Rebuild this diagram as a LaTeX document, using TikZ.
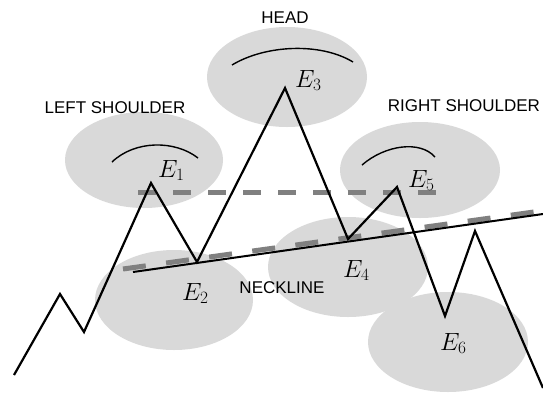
\documentclass[tikz,border=0pt]{standalone}
\usepackage{fontspec}
\setsansfont{Liberation Sans}
\usetikzlibrary{positioning}

\tikzset{
  zone/.style={fill=black!15},
  price/.style={line width=2.2pt, line join=miter},
  guide/.style={line width=5pt, black!50},
  crest/.style={line width=1.4pt},
  tag/.style={font=\sffamily\fontsize{17}{20}\selectfont, anchor=base, inner sep=0pt},
  ev/.style={font=\fontsize{25}{28}\selectfont, anchor=base west, inner sep=0pt}
}

\begin{document}
\begin{tikzpicture}[x=1pt, y=-1pt]
        \useasboundingbox (0,0) rectangle (543,392);

        % Shaded zones
        \fill[zone] (144,160) ellipse [x radius=79pt, y radius=48pt];
        \fill[zone] (287,77) ellipse [x radius=80pt, y radius=50pt];
        \fill[zone] (420,170) ellipse [x radius=80pt, y radius=48pt];
        \fill[zone] (174,300) ellipse [x radius=79pt, y radius=50pt];
        \fill[zone] (348,267) ellipse [x radius=80pt, y radius=50pt];
        \fill[zone] (448,342) ellipse [x radius=80pt, y radius=50pt];

        % Turning points
        \coordinate (s0) at (14,375);
        \coordinate (s1) at (60,294);
        \coordinate (s2) at (84,332);
        \coordinate (e1) at (151,183);
        \coordinate (e2) at (197,262);
        \coordinate (e3) at (285,88);
        \coordinate (e4) at (348,239);
        \coordinate (e5) at (397,187);
        \coordinate (e6) at (445,316);
        \coordinate (s7) at (475,231);
        \coordinate (s8) at (543,388);

        % Guide lines
        \coordinate (h0) at (138,192);
        \coordinate (h1) at (438,192);
        \draw[guide, dash pattern=on 18pt off 17pt] (h0) -- (h1);
        \coordinate (n0) at (123,269);
        \coordinate (n1) at (541,211);
        \draw[guide, dash pattern=on 23pt off 20.5pt] (n0) -- (n1);
        \coordinate (k0) at (133,272);
        \coordinate (k1) at (543,214);
        \draw[line width=2pt] (k0) -- (k1);

        % Price path
        \draw[price] (s0) -- (s1) -- (s2) -- (e1) -- (e2) -- (e3) -- (e4) -- (e5) -- (e6) -- (s7) -- (s8);

        % Rounded tops
        \draw[crest] (112,162) .. controls (135,140) and (175,140) .. (198,158);
        \draw[crest] (232,65) .. controls (265,45) and (320,42) .. (353,62);
        \draw[crest] (362,165) .. controls (385,145) and (420,140) .. (435,157);

        % Labels
        \node[tag] (head) at (285,23) {HEAD};
        \node[tag] (lsh) at (115,113) {LEFT SHOULDER};
        \node[tag] (rsh) at (464,111) {RIGHT SHOULDER};
        \node[tag] (neck) at (282,293) {NECKLINE};
        \node[ev] (le1) at (158,177) {$E_1$};
        \node[ev] (le2) at (182,300) {$E_2$};
        \node[ev] (le3) at (295,87) {$E_3$};
        \node[ev] (le4) at (343,277) {$E_4$};
        \node[ev] (le5) at (408,187) {$E_5$};
        \node[ev] (le6) at (440,350) {$E_6$};
\end{tikzpicture}
\end{document}
